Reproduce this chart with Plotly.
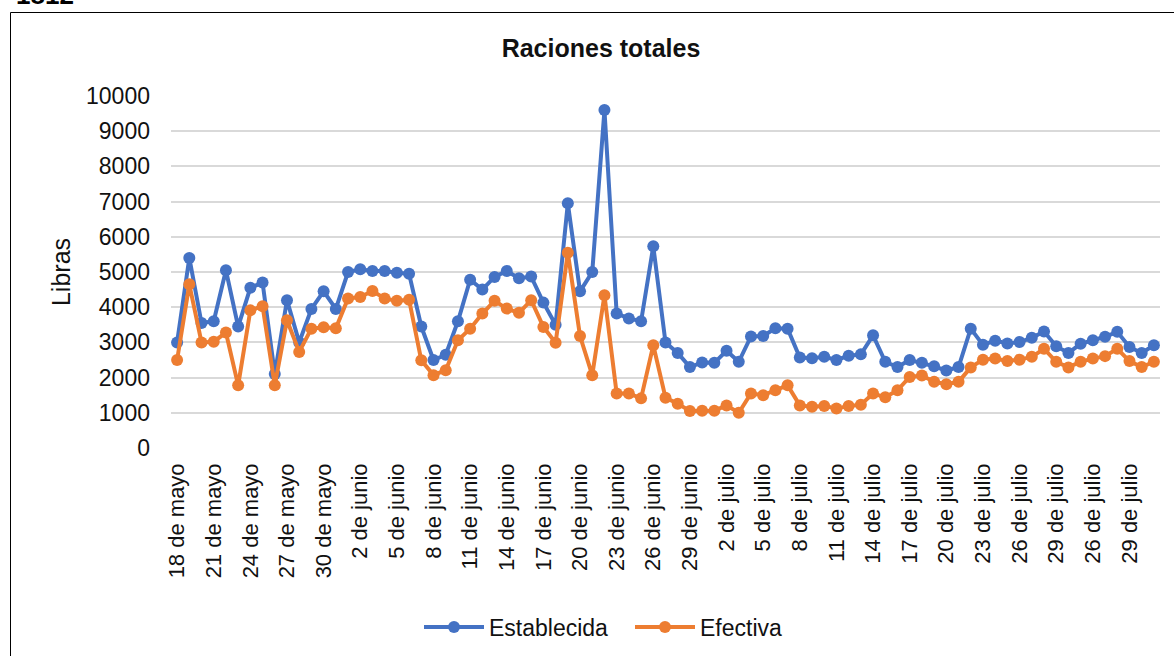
import plotly.graph_objects as go

# ---- data ----
dias_mayo = list(range(18, 32))
dias_junio = list(range(1, 31))
dias_julio = list(range(1, 30))
dias_julio_extra = list(range(24, 32))

fechas = ([f"{d} de mayo" for d in dias_mayo]
          + [f"{d} de junio" for d in dias_junio]
          + [f"{d} de julio" for d in dias_julio]
          + [f"{d} de julio" for d in dias_julio_extra])

establecida = [3000, 5400, 3550, 3600, 5050, 3450, 4550, 4700, 2100, 4200,
               3000, 3950, 4450, 3950, 5000, 5080, 5030, 5030, 4980, 4950,
               3450, 2500, 2650, 3600, 4780, 4500, 4860, 5030, 4820, 4870,
               4130, 3500, 6950, 4450, 5000, 9600, 3820, 3680, 3600, 5730,
               3000, 2700, 2300, 2430, 2420, 2760, 2450, 3170, 3180, 3400,
               3390, 2570, 2550, 2590, 2500, 2620, 2660, 3200, 2450, 2300,
               2500, 2420, 2320, 2200, 2300, 3390, 2930, 3050, 2970, 3010,
               3130, 3310, 2890, 2700, 2960, 3060, 3160, 3300, 2870, 2700, 2920]

efectiva = [2500, 4650, 3000, 3020, 3280, 1780, 3910, 4030, 1780, 3630,
            2730, 3390, 3430, 3400, 4250, 4290, 4460, 4250, 4180, 4210,
            2490, 2070, 2210, 3060, 3390, 3820, 4180, 3960, 3840, 4200,
            3440, 2990, 5550, 3180, 2070, 4340, 1550, 1550, 1410, 2920,
            1430, 1260, 1050, 1060, 1060, 1210, 1000, 1550, 1500, 1640,
            1780, 1210, 1170, 1190, 1120, 1190, 1230, 1550, 1440, 1640,
            2020, 2060, 1880, 1810, 1880, 2290, 2510, 2540, 2470, 2510,
            2590, 2820, 2450, 2290, 2450, 2540, 2610, 2820, 2470, 2300, 2450]

y_ticks = [0, 1000, 2000, 3000, 4000, 5000, 6000, 7000, 8000, 9000, 10000]

# ---- layout geometry ----
W, H = 1174, 656
L, R, T, B = 171, 14, 96, 208
pw, ph = W - L - R, H - T - B


def px_x(x):
    return (x - L) / pw


def px_y(y):
    return (H - B - y) / ph


FONT = "Liberation Sans, Arial, Helvetica, sans-serif"
TXT = "#111111"
idx = list(range(len(fechas)))

fig = go.Figure()
fig.add_trace(go.Scatter(
    x=idx, y=establecida, name="Establecida", mode="lines+markers",
    line=dict(color="#4472C4", width=4),
    marker=dict(color="#4472C4", size=12),
    cliponaxis=False,
))
fig.add_trace(go.Scatter(
    x=idx, y=efectiva, name="Efectiva", mode="lines+markers",
    line=dict(color="#ED7D31", width=4),
    marker=dict(color="#ED7D31", size=12),
    cliponaxis=False,
))

fig.update_layout(
    width=W, height=H,
    margin=dict(l=L, r=R, t=T, b=B, autoexpand=False),
    paper_bgcolor="white", plot_bgcolor="white",
    font=dict(family=FONT, size=22, color=TXT),
    title=dict(text="<b>Raciones totales</b>", x=601 / W, xanchor="center",
               y=1 - 48 / H, yanchor="middle",
               font=dict(size=25, color=TXT, family=FONT)),
    showlegend=True,
    legend=dict(orientation="h", x=px_x(630), xanchor="center",
                y=px_y(627), yanchor="middle",
                font=dict(size=23, color=TXT),
                itemwidth=60, entrywidth=136, entrywidthmode="pixels",
                tracegroupgap=0),
    xaxis=dict(
        range=[-0.5, len(fechas) - 0.5], automargin=False,
        tickmode="array", tickvals=idx[::3], ticktext=fechas[::3],
        tickangle=-90, showgrid=False, zeroline=False,
        showline=False, ticks="", tickfont=dict(size=22, color=TXT),
        ticklabelstandoff=10,
    ),
    yaxis=dict(
        range=[0, 10000], tickvals=y_ticks, tickformat="d", automargin=False,
        showgrid=True, gridcolor="#d9d9d9", gridwidth=1.5, zeroline=False,
        showline=False, ticks="", tickfont=dict(size=23, color=TXT),
        ticklabelstandoff=20,
        title=dict(text="Libras", font=dict(size=25, color=TXT),
                   standoff=8),
    ),
    shapes=[dict(type="rect", xref="paper", yref="paper",
                 x0=px_x(10.5), x1=px_x(W + 20), y0=px_y(H + 20), y1=px_y(12.5),
                 line=dict(color="black", width=1), fillcolor="rgba(0,0,0,0)",
                 layer="below")],
    annotations=[dict(text="<b>1812</b>", xref="paper", yref="paper",
                      x=px_x(14), xanchor="left", y=px_y(12), yanchor="bottom",
                      showarrow=False,
                      font=dict(size=26, color="black", family=FONT))],
)

fig.write_html("out.html",
               config={"displayModeBar": False},
               post_script="document.body.style.margin='0';"
                           "document.body.style.overflow='hidden';")
